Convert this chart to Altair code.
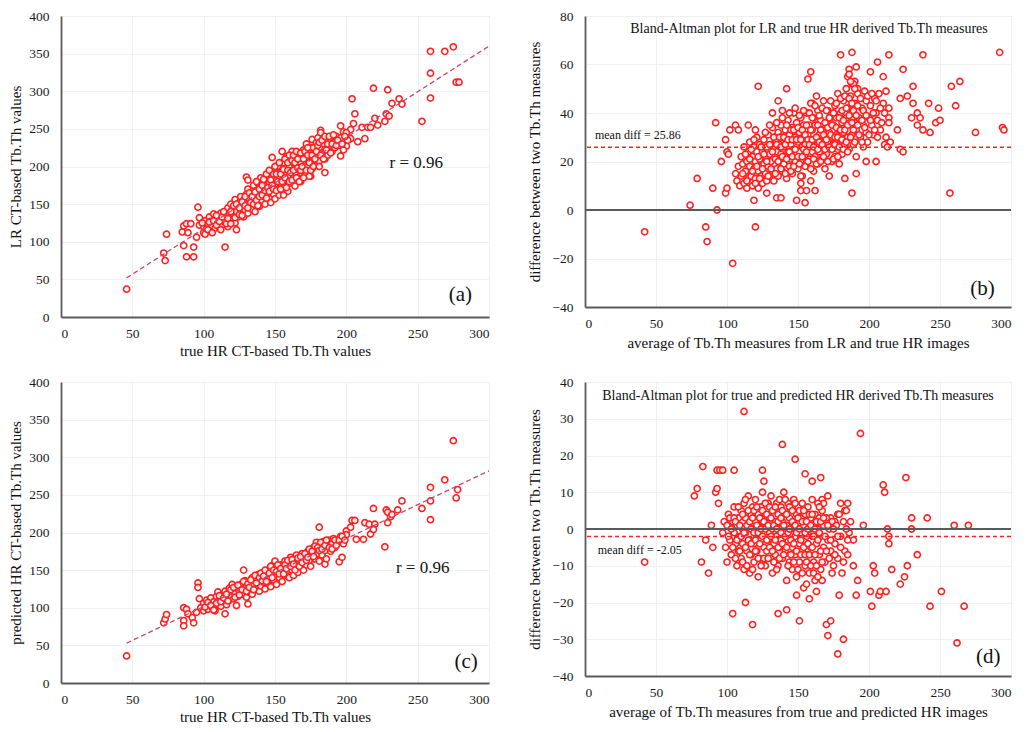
import altair as alt
import pandas as pd

FONT = "Liberation Serif"
RED = "#ff2020"
AXIS_DARK = "#5a5a5a"

# ---------------- Panel (a): true HR vs LR Tb.Th ----------------
a_points = [
    (46, 37), (72, 85), (73, 75), (74, 110), (86, 95), (85, 113), (86, 121), (88, 124),
    (88, 80), (91, 124), (89, 112), (93, 93), (93, 80), (95, 106), (96, 146), (97, 132),
    (97, 122), (115, 93), (123, 116), (148, 212),
    (204, 290), (206, 270), (219, 304), (229, 302), (237, 290), (239, 283), (232, 284),
    (228, 270), (230, 267), (227, 260), (253, 260), (259, 353), (259, 324), (259, 291),
    (269, 353), (275, 359), (277, 312), (279, 312),
    (196, 254), (198, 246), (203, 249), (205, 257), (211, 252), (213, 237), (208, 233),
    (215, 252), (217, 252), (220, 264), (222, 255), (203, 237), (196, 214), (200, 227),
    (197, 233), (185, 192), (175, 187), (182, 248),
    (100, 112), (100, 120), (101, 128), (102, 117), (103, 124), (104, 133), (105, 115),
    (105, 127), (106, 121), (107, 137), (108, 118), (108, 130), (110, 124), (110, 133),
    (111, 119), (112, 128), (112, 138), (113, 122), (114, 131), (115, 126), (115, 140),
    (116, 134), (117, 145), (117, 120), (118, 128), (118, 138), (119, 150), (120, 131),
    (120, 143), (121, 136), (122, 156), (122, 125), (123, 140), (124, 148), (124, 133),
    (125, 152), (126, 138), (126, 160), (127, 145), (128, 133), (128, 155), (129, 142),
    (130, 150), (130, 163), (130, 186), (131, 182), (131, 138), (132, 157), (132, 147),
    (133, 168), (134, 143), (134, 155), (135, 162), (135, 175), (136, 150), (136, 140),
    (137, 168), (138, 158), (138, 178), (139, 147), (140, 165), (140, 172), (140, 185),
    (141, 155), (142, 170), (142, 160), (143, 180), (143, 150), (144, 175), (145, 165),
    (145, 188), (146, 158), (146, 178), (147, 170), (147, 152), (148, 185), (148, 195),
    (149, 163), (150, 175), (150, 192), (150, 157), (151, 182), (152, 170), (152, 200),
    (153, 187), (153, 162), (154, 178), (155, 195), (155, 220), (155, 168), (156, 185),
    (156, 205), (157, 175), (158, 192), (158, 213), (159, 180), (159, 167), (160, 200),
    (160, 188), (161, 210), (161, 178), (162, 195), (162, 220), (163, 185), (163, 205),
    (164, 192), (164, 174), (165, 212), (165, 200), (166, 185), (167, 218), (167, 195),
    (168, 205), (168, 180), (169, 212), (170, 198), (170, 222), (171, 188), (172, 210),
    (172, 230), (173, 200), (174, 218), (174, 187), (175, 225), (175, 207), (176, 236),
    (176, 197), (177, 213), (178, 222), (178, 202), (179, 232), (180, 215), (180, 238),
    (181, 207), (182, 225), (182, 245), (183, 218), (184, 230), (185, 210), (185, 222),
    (186, 236), (187, 215), (188, 228), (189, 236), (190, 220), (191, 232), (192, 225),
    (193, 240), (195, 228), (196, 238), (198, 222), (200, 245), (201, 235),
    (99, 125), (101, 110), (103, 116), (104, 126), (106, 112), (107, 128), (109, 122),
    (109, 135), (111, 127), (112, 116), (113, 133), (114, 140), (116, 124), (117, 131),
    (119, 124), (119, 140), (121, 148), (122, 132), (123, 150), (125, 136), (125, 145),
    (127, 153), (127, 135), (129, 148), (129, 160), (131, 145), (131, 170), (132, 165),
    (133, 152), (134, 160), (135, 150), (136, 166), (137, 155), (137, 180), (138, 148),
    (139, 170), (139, 160), (141, 175), (141, 162), (142, 183), (143, 168), (144, 158),
    (144, 190), (145, 172), (146, 167), (146, 195), (147, 182), (148, 175), (149, 190),
    (149, 170), (150, 200), (151, 168), (151, 190), (152, 180), (153, 205), (154, 170),
    (154, 190), (155, 180), (156, 162), (156, 196), (157, 210), (157, 185), (158, 172),
    (159, 205), (159, 195), (160, 180), (160, 215), (161, 192), (162, 182), (162, 208),
    (163, 215), (163, 195), (164, 205), (165, 185), (165, 220), (166, 198), (166, 210),
    (167, 180), (168, 218), (168, 195), (169, 200), (170, 210), (170, 185), (171, 220),
    (172, 195), (173, 215), (173, 225), (174, 205), (175, 195), (176, 215), (177, 225),
    (177, 200), (178, 210), (179, 220), (180, 228), (181, 200), (181, 232), (182, 215),
    (183, 235), (184, 210), (185, 240), (186, 222), (187, 230), (188, 240), (189, 218),
    (190, 230), (191, 242), (193, 228), (194, 235), (197, 230), (199, 240),
]
a_trend_x = [46, 300]
a_trend_y = [52, 360]
a_r = "r = 0.96"

# ---------------- Panel (b): Bland-Altman LR vs true HR ----------------
b_points = [
    (42, -9), (74, 2), (79, 13), (85, -7), (86, -13), (90, 9), (93, 0), (92, 36),
    (96, 20), (99, 29), (99, 7), (100, 24), (101, 23), (100, 9), (102, 33), (106, 35),
    (108, 33), (104, -22), (115, 35), (119, 4), (120, -7), (120, 33), (122, 51),
    (128, 7), (132, 40), (135, 5), (138, 5), (136, 45), (139, 41), (142, 50),
    (149, 4), (152, 8), (152, 11), (155, 3), (156, 8), (159, 12), (162, 8),
    (157, 54), (159, 57), (160, 44), (163, 47),
    (180, 64), (188, 65), (188, 7), (191, 15), (191, 59), (201, 57), (206, 61),
    (210, 55), (214, 64), (205, 20), (198, 20), (212, 49), (214, 42), (214, 38),
    (214, 36), (211, 27), (215, 28), (213, 26), (220, 33), (222, 25), (224, 24),
    (224, 58), (222, 46), (227, 47), (231, 51), (231, 44), (230, 38), (234, 40),
    (234, 35), (236, 38), (238, 64), (238, 33), (243, 32), (242, 44), (247, 36),
    (250, 37), (249, 42), (257, 7), (258, 51), (261, 43), (264, 53), (275, 32),
    (292, 65), (294, 34), (295, 33),
    (185, 55), (186, 58), (188, 52), (190, 53), (192, 50),
    (106, 15), (107, 12), (108, 18), (109, 10), (110, 22), (110, 14), (111, 19),
    (112, 11), (112, 26), (113, 16), (114, 20), (114, 9), (115, 24), (115, 13),
    (116, 18), (116, 28), (117, 14), (118, 22), (118, 10), (119, 17), (119, 26),
    (120, 20), (120, 13), (121, 24), (121, 30), (122, 16), (122, 9), (123, 21),
    (123, 27), (124, 14), (124, 18), (125, 24), (125, 11), (126, 29), (126, 19),
    (127, 15), (127, 22), (128, 26), (128, 12), (129, 18), (129, 31), (130, 23),
    (130, 14), (131, 27), (131, 20), (132, 16), (132, 34), (133, 25), (133, 12),
    (134, 21), (134, 29), (135, 17), (135, 24), (136, 32), (136, 14), (137, 20),
    (137, 27), (138, 23), (138, 35), (139, 16), (139, 30), (140, 26), (140, 19),
    (141, 33), (141, 22), (142, 13), (142, 28), (143, 24), (143, 37), (144, 18),
    (144, 31), (145, 21), (145, 27), (146, 34), (146, 15), (147, 25), (147, 40),
    (148, 20), (148, 30), (149, 23), (149, 36), (150, 17), (150, 28), (151, 32),
    (151, 24), (152, 38), (152, 20), (153, 26), (153, 14), (154, 30), (154, 35),
    (155, 22), (155, 27), (156, 18), (156, 40), (157, 31), (157, 25), (158, 35),
    (158, 21), (159, 28), (159, 44), (160, 33), (160, 24), (161, 16), (161, 38),
    (162, 29), (162, 22), (163, 35), (163, 26), (164, 41), (164, 19), (165, 31),
    (165, 24), (166, 37), (166, 28), (167, 21), (167, 33), (168, 45), (168, 26),
    (169, 30), (169, 17), (170, 36), (170, 23), (171, 41), (171, 28), (172, 32),
    (172, 14), (173, 25), (173, 38), (174, 30), (174, 20), (175, 35), (175, 27),
    (176, 43), (176, 22), (177, 31), (177, 38), (178, 25), (178, 48), (179, 33),
    (179, 19), (180, 29), (180, 40), (181, 36), (181, 23), (182, 32), (182, 45),
    (183, 27), (183, 13), (184, 38), (184, 50), (185, 30), (185, 42), (186, 25),
    (186, 56), (187, 35), (187, 47), (188, 31), (188, 40), (189, 27), (189, 52),
    (190, 36), (190, 44), (191, 22), (191, 33), (192, 48), (193, 38), (194, 30),
    (195, 42), (196, 35), (196, 26), (197, 49), (198, 32), (198, 45), (199, 28),
    (200, 38), (201, 43), (202, 35), (203, 31), (204, 46), (205, 40), (206, 37),
    (207, 48), (208, 33), (210, 44), (212, 30),
    (111, 15), (113, 23), (114, 12), (116, 21), (117, 25), (118, 16), (119, 29),
    (120, 11), (121, 18), (122, 22), (123, 13), (124, 26), (125, 17), (126, 23),
    (127, 32), (128, 20), (129, 14), (130, 27), (130, 35), (131, 17), (132, 24),
    (133, 30), (134, 15), (135, 27), (135, 36), (136, 20), (137, 30), (138, 17),
    (138, 26), (139, 22), (139, 38), (140, 30), (141, 15), (141, 27), (142, 21),
    (142, 35), (143, 29), (144, 24), (144, 40), (145, 16), (145, 33), (146, 22),
    (146, 29), (147, 18), (147, 33), (148, 25), (148, 42), (149, 29), (150, 22),
    (150, 34), (151, 19), (151, 39), (152, 29), (152, 14), (153, 33), (153, 22),
    (154, 25), (154, 41), (155, 18), (155, 31), (156, 35), (156, 24), (157, 20),
    (157, 29), (158, 27), (158, 40), (159, 17), (159, 33), (160, 29), (160, 38),
    (161, 21), (161, 26), (162, 35), (162, 43), (163, 19), (163, 30), (164, 25),
    (164, 35), (165, 28), (165, 39), (166, 20), (166, 33), (167, 27), (167, 42),
    (168, 31), (168, 22), (169, 36), (169, 25), (170, 29), (170, 41), (171, 20),
    (171, 34), (172, 26), (172, 38), (173, 31), (173, 45), (174, 25), (174, 35),
    (175, 21), (175, 40), (176, 30), (176, 27), (177, 34), (177, 44), (178, 30),
    (178, 22), (179, 38), (179, 26), (180, 33), (180, 46), (181, 29), (181, 41),
    (182, 25), (182, 37), (183, 33), (183, 47), (184, 28), (184, 42), (185, 35),
    (185, 24), (186, 39), (186, 46), (187, 30), (187, 53), (188, 36), (188, 44),
    (189, 33), (189, 41), (190, 28), (190, 50), (191, 39), (192, 35), (192, 43),
    (193, 31), (194, 46), (195, 37), (195, 28), (196, 41), (197, 34), (198, 39),
    (199, 47), (200, 31), (201, 37), (202, 48), (203, 40), (204, 33), (205, 45),
    (206, 30), (208, 42), (209, 36), (211, 40),
]
b_mean_diff = 25.86
b_title = "Bland-Altman plot for LR and true HR derived Tb.Th measures"

# ---------------- Panel (c): true HR vs predicted HR Tb.Th ----------------
c_points = [
    (46, 36), (72, 80), (73, 85), (74, 91), (86, 100), (86, 83), (86, 76), (88, 98),
    (89, 92), (92, 87), (93, 80), (95, 94), (96, 133), (96, 127), (97, 112),
    (115, 92), (123, 103), (131, 105), (128, 150),
    (181, 207), (195, 161), (197, 167), (219, 232), (227, 181), (228, 230), (229, 227),
    (229, 213), (231, 221), (232, 224), (236, 230), (239, 242), (253, 232), (259, 260),
    (259, 242), (259, 217), (269, 270), (275, 322), (277, 246), (278, 257),
    (204, 216), (206, 216), (207, 191), (212, 191), (213, 213), (216, 211), (217, 198),
    (220, 211), (219, 204), (200, 202), (203, 207), (177, 165), (185, 158),
    (98, 100), (100, 96), (100, 106), (102, 110), (103, 98), (104, 104), (105, 113),
    (106, 100), (107, 108), (108, 96), (109, 115), (110, 104), (110, 121), (111, 110),
    (112, 102), (113, 117), (114, 108), (115, 122), (115, 112), (116, 104), (117, 118),
    (118, 126), (118, 110), (119, 115), (120, 122), (120, 131), (121, 112), (122, 119),
    (123, 127), (124, 115), (125, 122), (126, 131), (127, 118), (128, 125), (129, 136),
    (130, 114), (130, 128), (131, 121), (132, 133), (133, 125), (134, 140), (134, 118),
    (135, 130), (136, 137), (137, 126), (138, 144), (138, 132), (139, 122), (140, 139),
    (140, 129), (141, 146), (142, 134), (143, 125), (144, 141), (145, 133), (145, 150),
    (146, 138), (147, 128), (148, 146), (148, 156), (149, 137), (150, 143), (150, 162),
    (151, 131), (152, 150), (153, 140), (154, 157), (155, 146), (155, 135), (156, 153),
    (157, 162), (158, 143), (159, 150), (160, 158), (160, 140), (161, 167), (162, 150),
    (163, 143), (164, 160), (165, 153), (165, 170), (166, 147), (167, 163), (168, 156),
    (169, 172), (170, 160), (170, 150), (171, 167), (172, 157), (173, 175), (174, 163),
    (175, 155), (176, 170), (177, 180), (178, 165), (179, 187), (180, 172), (181, 162),
    (182, 180), (183, 170), (184, 188), (185, 176), (186, 165), (187, 183), (188, 190),
    (189, 175), (190, 185), (191, 192), (192, 180), (194, 188), (196, 195), (198, 185),
    (200, 197),
    (101, 101), (103, 107), (105, 103), (107, 97), (109, 106), (111, 116), (112, 108),
    (114, 113), (116, 118), (117, 109), (119, 124), (121, 127), (122, 114), (124, 130),
    (125, 117), (127, 124), (128, 135), (130, 122), (131, 132), (132, 127), (133, 137),
    (135, 124), (136, 143), (137, 133), (139, 140), (140, 146), (141, 136), (142, 142),
    (143, 150), (144, 135), (146, 146), (147, 155), (148, 140), (149, 150), (151, 148),
    (152, 157), (153, 145), (154, 152), (156, 145), (157, 157), (158, 152), (159, 163),
    (161, 155), (162, 164), (163, 158), (164, 150), (166, 166), (167, 155), (168, 168),
    (169, 160), (171, 172), (172, 163), (173, 167), (174, 178), (176, 175), (177, 168),
    (178, 182), (180, 180), (181, 176), (182, 187), (183, 178), (185, 183), (186, 190),
    (188, 180), (190, 178), (192, 190), (193, 183), (195, 190), (197, 195), (199, 190),
]
c_trend_x = [46, 300]
c_trend_y = [53, 282]
c_r = "r = 0.96"

# ---------------- Panel (d): Bland-Altman true vs predicted HR ----------------
d_points = [
    (42, -9), (77, 9), (79, 11), (83, 17), (82, -9), (85, -3), (87, -12), (89, 1),
    (90, -5), (92, 10), (93, 11), (93, 16), (95, 16), (97, 16), (94, 7),
    (104, -23), (105, 16), (113, -20), (112, 32), (118, -26), (125, 16), (126, 13),
    (136, -23), (139, 23), (142, -22), (148, 19), (151, -25), (149, -18), (155, 15),
    (154, -16), (158, -19), (160, 13), (166, 14),
    (170, -26), (171, -29), (173, -25), (178, -34), (182, -30), (179, -18), (194, 26),
    (191, -18), (192, -14), (196, 1), (201, -17), (202, -21), (203, -10), (204, -12),
    (207, -18), (208, -17), (212, -17), (210, 12), (211, 10), (214, -4), (216, -11),
    (222, -15), (225, -13), (226, 14), (227, -10), (230, 3), (230, 0), (234, -7),
    (241, 3), (243, -21), (251, -17), (260, 1), (262, -31), (267, -21), (270, 1),
    (213, 0), (214, -2), (189, -10), (189, -3),
    (167, 8), (168, 7), (171, 9), (173, 3), (176, 2), (178, 4), (180, 7), (183, 5), (185, 7),
    (97, -1), (98, 2), (99, -5), (100, 1), (100, -9), (101, 4), (102, -3), (103, -7),
    (104, 2), (105, -1), (105, 6), (106, -4), (107, 1), (107, -10), (108, 3), (108, -6),
    (109, -2), (110, 5), (110, -8), (111, 0), (111, -4), (112, 7), (112, -11), (113, -1),
    (113, 3), (114, -6), (115, 1), (115, 9), (116, -3), (116, -12), (117, 4), (117, -7),
    (118, 0), (118, 6), (119, -4), (119, -9), (120, 2), (120, 8), (121, -2), (121, -6),
    (122, 4), (122, -13), (123, 0), (123, -8), (124, 6), (124, -3), (125, 2), (125, 10),
    (126, -5), (126, -1), (127, 4), (127, -10), (128, 1), (128, -6), (129, 7), (129, -3),
    (130, -1), (130, 3), (131, 9), (131, -8), (132, 0), (132, -12), (133, 5), (133, -4),
    (134, 2), (134, -7), (135, -2), (135, 7), (136, 4), (136, -10), (137, 0), (137, -5),
    (138, 6), (138, -3), (139, -8), (139, 2), (140, 10), (140, -1), (141, -6), (141, 4),
    (142, -14), (142, 1), (143, 7), (143, -3), (144, -9), (144, 3), (145, 0), (145, 5),
    (146, -5), (146, -11), (147, 2), (147, 8), (148, -2), (148, -7), (149, 4), (149, -13),
    (150, 0), (150, 6), (151, -4), (151, -9), (152, 3), (152, -1), (153, 7), (153, -6),
    (154, -3), (154, 1), (155, -10), (155, 4), (156, -2), (156, -15), (157, 6), (157, -7),
    (158, 0), (158, -12), (159, 3), (159, -5), (160, -2), (160, 8), (161, -9), (161, 1),
    (162, -14), (162, 4), (163, -4), (163, -17), (164, 0), (164, 7), (165, -7), (165, 3),
    (166, -2), (166, -11), (167, 5), (167, -14), (168, -5), (168, 1), (169, -9), (170, 3),
    (171, -3), (172, 0), (173, -6), (174, 2), (175, -10), (176, -4), (177, 1), (178, -8),
    (179, 4), (180, -2), (181, -12), (182, 2), (183, -6), (184, 5), (185, -3), (186, -1),
    (101, -2), (102, 3), (103, 0), (104, -5), (105, 3), (106, -8), (106, 2), (107, -3),
    (108, 6), (109, -6), (109, 1), (110, -2), (111, 4), (111, -9), (112, -1), (113, -5),
    (113, 8), (114, 1), (114, -10), (115, -3), (115, 5), (116, 2), (116, -7), (117, 0),
    (117, -4), (118, 3), (118, -11), (119, -1), (119, 5), (120, -6), (120, -3), (121, 1),
    (121, 6), (122, -1), (122, -8), (123, 3), (123, -4), (124, 0), (124, -10), (125, -2),
    (125, 5), (126, 2), (126, -8), (127, 0), (127, 7), (128, -3), (128, 4), (129, -8),
    (129, 1), (130, 6), (130, -5), (131, -2), (131, 3), (132, -6), (132, 5), (133, -9),
    (133, 1), (134, -3), (134, 6), (135, 0), (135, -11), (136, -5), (136, 2), (137, 8),
    (137, -8), (138, -1), (138, 3), (139, -4), (139, 5), (140, 1), (140, -7), (141, -2),
    (141, 8), (142, -5), (142, 4), (143, -1), (143, -10), (144, 0), (144, 6), (145, -7),
    (145, -3), (146, 2), (146, 5), (147, -4), (147, -9), (148, 1), (148, 7), (149, -6),
    (149, -1), (150, 3), (150, -11), (151, 0), (151, 5), (152, -7), (152, -3), (153, 2),
    (153, -12), (154, -5), (154, 5), (155, -1), (155, -7), (156, 2), (156, -9), (157, 0),
    (157, -4), (158, 4), (158, -7), (159, -10), (159, 1), (160, -5), (160, 4), (161, -2),
    (161, -12), (162, 0), (162, -7), (163, 2), (163, -10), (164, -3), (164, -13), (165, -1),
    (165, 6), (166, -6), (166, 2), (167, -9), (168, 3), (169, -2), (170, -6), (171, 1),
    (172, -8), (173, -3), (174, -12), (175, 0), (176, -7), (178, -2), (180, -5), (182, -9),
    (184, 0), (185, -7), (187, 2),
]
d_mean_diff = -2.05
d_title = "Bland-Altman plot for true and predicted HR derived Tb.Th measures"

x_ticks = [0, 50, 100, 150, 200, 250, 300]
y_ticks_ac = [0, 50, 100, 150, 200, 250, 300, 350, 400]
y_ticks_b = [-40, -20, 0, 20, 40, 60, 80]
y_ticks_d = [-40, -30, -20, -10, 0, 10, 20, 30, 40]


def pts_df(points):
    return pd.DataFrame({"x": [p[0] for p in points], "y": [p[1] for p in points]})


def axis_x(title, title_pad):
    return alt.Axis(values=x_ticks, tickCount=len(x_ticks), title=title, grid=True,
                    gridColor="#efefef", domainColor=AXIS_DARK, domainWidth=1.8,
                    ticks=False, tickSize=0, labelPadding=9, titlePadding=title_pad,
                    labelFontSize=13.5, titleFontSize=15, labelColor="#1a1a1a",
                    titleColor="#111", titleFontWeight="normal", labelFont=FONT,
                    titleFont=FONT)


def axis_y(values, title, title_pad):
    return alt.Axis(values=values, tickCount=len(values), title=title, grid=True,
                    gridColor="#efefef", domainColor=AXIS_DARK, domainWidth=1.8,
                    ticks=False, tickSize=0, labelPadding=12, titlePadding=title_pad,
                    labelFontSize=13.5, titleFontSize=15, labelColor="#1a1a1a",
                    titleColor="#111", titleFontWeight="normal", labelFont=FONT,
                    titleFont=FONT)


def scatter_layer(points, xdom, ydom, yvals, xtitle, ytitle, xpad, ypad):
    return alt.Chart(pts_df(points)).mark_point(
        shape="circle", filled=False, fill="white", fillOpacity=0.85,
        color=RED, size=38, strokeWidth=1.6, opacity=1
    ).encode(
        x=alt.X("x:Q", scale=alt.Scale(domain=xdom, nice=False),
                axis=axis_x(xtitle, xpad)),
        y=alt.Y("y:Q", scale=alt.Scale(domain=ydom, nice=False),
                axis=axis_y(yvals, ytitle, ypad)),
    )


def text_layer(txt, x, y, size, align="center", dy=0):
    return alt.Chart(pd.DataFrame({"t": [txt]})).mark_text(
        font=FONT, fontSize=size, color="#111", align=align, baseline="middle", dy=dy
    ).encode(x=alt.datum(x), y=alt.datum(y), text="t:N")


def trend_layer(xs, ys):
    return alt.Chart(pd.DataFrame({"x": xs, "y": ys})).mark_line(
        color="#c2476e", strokeDash=[5, 3], strokeWidth=1.3
    ).encode(x="x:Q", y="y:Q")


def mean_layer(val):
    return alt.Chart(pd.DataFrame({"y": [val]})).mark_rule(
        color=RED, strokeDash=[4, 3], strokeWidth=1.6
    ).encode(y="y:Q")


def zero_layer():
    return alt.Chart(pd.DataFrame({"y": [0]})).mark_rule(
        color=AXIS_DARK, strokeWidth=1.8
    ).encode(y="y:Q")


def top_title(txt, xpix, ypix):
    return alt.Chart(pd.DataFrame({"t": [txt]})).mark_text(
        font=FONT, fontSize=14, color="#111", align="center", baseline="middle"
    ).encode(x=alt.value(xpix), y=alt.value(ypix), text="t:N")


panel_a = alt.layer(
    scatter_layer(a_points, [0, 300], [0, 400], y_ticks_ac,
                  "true HR CT-based Tb.Th values", "LR CT-based Tb.Th values", 4, 5),
    trend_layer(a_trend_x, a_trend_y),
    text_layer(a_r, 249, 204, 17),
    text_layer("(a)", 280, 29, 21),
).properties(width=428, height=301)

panel_b = alt.layer(
    scatter_layer(b_points, [0, 300], [-40, 80], y_ticks_b,
                  "average of  Tb.Th measures from LR and true HR images",
                  "difference between two Tb.Th measures", 6, 9),
    zero_layer(),
    mean_layer(b_mean_diff),
    text_layer("mean diff = " + str(b_mean_diff), 7, b_mean_diff, 12, align="left", dy=-12),
    top_title(b_title, 224, 13),
    text_layer("(b)", 280, -32.5, 21),
).properties(width=426, height=291)

panel_c = alt.layer(
    scatter_layer(c_points, [0, 300], [0, 400], y_ticks_ac,
                  "true HR CT-based Tb.Th values", "predicted HR CT-based Tb.Th values", 4, 5),
    trend_layer(c_trend_x, c_trend_y),
    text_layer(c_r, 253.5, 153, 17),
    text_layer("(c)", 284, 28, 21),
).properties(width=428, height=301)

panel_d = alt.layer(
    scatter_layer(d_points, [0, 300], [-40, 40], y_ticks_d,
                  "average of  Tb.Th measures from true and predicted HR images",
                  "difference between two Tb.Th measures", 6, 9),
    zero_layer(),
    mean_layer(d_mean_diff),
    text_layer("mean diff = " + str(d_mean_diff), 9, d_mean_diff, 12, align="left", dy=13),
    top_title(d_title, 213, 14),
    text_layer("(d)", 284, -34.7, 21),
).properties(width=426, height=294)

chart = alt.concat(panel_a, panel_b, panel_c, panel_d, columns=2).properties(
    spacing={"row": 65, "column": 96}, bounds="flush",
    padding={"left": 0, "top": 0, "right": 0, "bottom": 0}
).configure_view(stroke=None).configure(background="white")

chart.save("out.html", embed_options={"renderer": "svg", "actions": False})
